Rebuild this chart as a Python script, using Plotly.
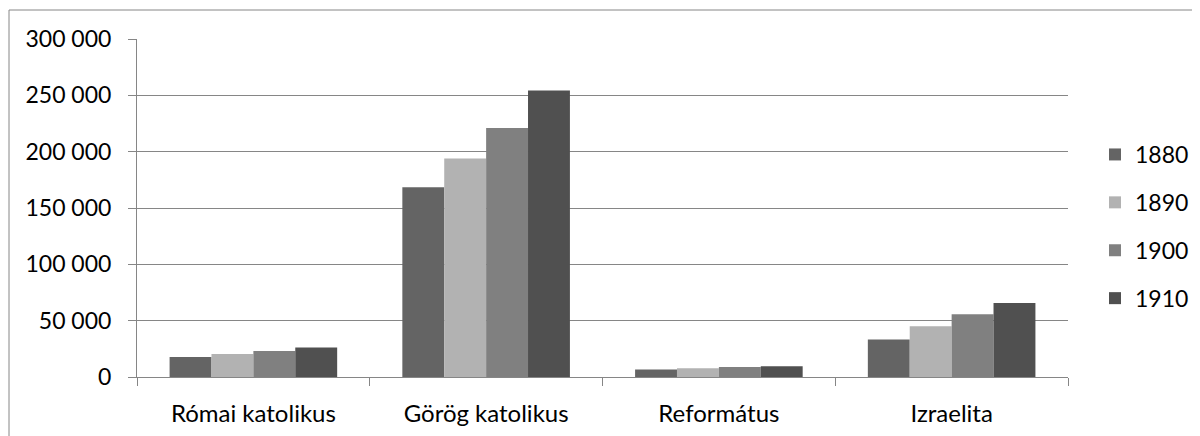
import plotly.graph_objects as go

categories = ["Római katolikus", "Görög katolikus", "Református", "Izraelita"]
years = ["1880", "1890", "1900", "1910"]
v1880 = [17800, 168500, 6600, 33300]
v1890 = [20500, 194000, 7700, 45100]
v1900 = [23100, 221000, 8900, 55800]
v1910 = [26200, 254200, 9500, 65600]
colors = ["#646464", "#b2b2b2", "#808080", "#505050"]

series = [v1880, v1890, v1900, v1910]

FONT = "Lato"
fig = go.Figure()
for i, (y, vals) in enumerate(zip(years, series)):
    fig.add_trace(go.Bar(x=categories, y=vals, name=y, marker_color=colors[i],
                         marker_line_width=0, legendgroup=y))

# page body has an 8px margin; figure coordinates are compensated for it
OFF = 8
W, H = 1200 - OFF, 436 - OFF
L, R, T, B = 137 - OFF, 132, 39 - OFF, 59
pw, ph = W - L - R, H - T - B

fig.update_layout(
    width=W, height=H,
    margin=dict(l=L, r=R, t=T, b=B, autoexpand=False),
    paper_bgcolor="white", plot_bgcolor="white",
    barmode="group", bargap=0.28, bargroupgap=0,
    separators=", ",
    font=dict(family=FONT, size=23, color="#000000"),
    legend=dict(x=(1095 - OFF - L) / pw, xanchor="left", y=1 - (226.5 - OFF - T) / ph, yanchor="middle",
                font=dict(family=FONT, size=23), tracegroupgap=15, traceorder="grouped",
                bgcolor="rgba(0,0,0,0)", itemwidth=30),
    showlegend=True,
)
fig.update_yaxes(range=[0, 300000], dtick=50000, tickformat=",d", showgrid=True,
                 gridcolor="#868686", gridwidth=1, showline=True, linecolor="#868686",
                 linewidth=1, ticks="outside", ticklen=8, tickcolor="#868686",
                 zeroline=False, tickfont=dict(family=FONT, size=23), ticklabelstandoff=12)
fig.update_xaxes(showgrid=False, showline=True, linecolor="#868686", linewidth=1,
                 ticks="outside", ticklen=8, tickcolor="#868686", tickson="boundaries",
                 tickfont=dict(family=FONT, size=24), mirror=False, ticklabelstandoff=15)

# outer chart border (only top and left visible in reference)
fig.add_shape(type="rect", xref="paper", yref="paper",
              x0=(9 - OFF - L) / pw, x1=(W + 20 - L) / pw,
              y0=-(H + 20 - (H - B)) / ph, y1=1 + (T - (10 - OFF)) / ph,
              line=dict(color="#868686", width=1), fillcolor="rgba(0,0,0,0)", layer="below")

fig.write_html("out.html")
